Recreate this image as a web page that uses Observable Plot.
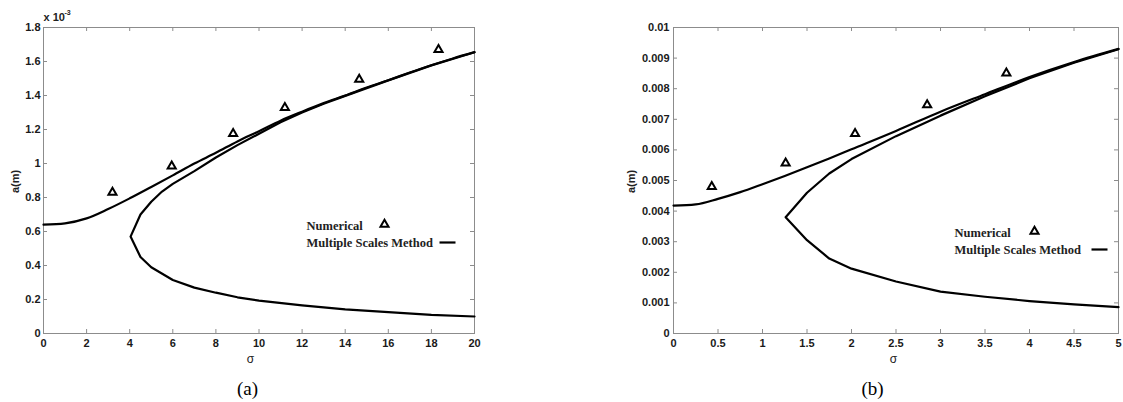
<!DOCTYPE html>
<html>
<head>
<meta charset="utf-8">
<script src="https://cdn.jsdelivr.net/npm/d3@7"></script>
<script src="https://cdn.jsdelivr.net/npm/@observablehq/plot@0.6"></script>
<style>
  html, body { margin: 0; padding: 0; background: #fff; }
  #wrap { position: relative; width: 1123px; height: 402px; overflow: hidden; }
  #pa, #pb { position: absolute; top: 0; }
  #pa { left: 0; }
  #pb { left: 560px; }
</style>
</head>
<body>
<div id="wrap"><div id="pa"></div><div id="pb"></div></div>
<script>
// ---------- Panel (a) data (a in units of 1e-3 m) ----------
const sigmaA_upper = [0, 1, 2, 3, 4, 5, 6, 7, 8, 9, 10, 11, 12, 13, 14, 15, 16, 17, 18, 19, 20];
const ampA_upper   = [0.640, 0.648, 0.677, 0.732, 0.795, 0.862, 0.930, 1.000, 1.063, 1.130, 1.190, 1.252, 1.305, 1.355, 1.400, 1.447, 1.490, 1.535, 1.578, 1.618, 1.655];
const sigmaA_middle = [4.04, 4.5, 5, 5.5, 6, 7, 8, 9, 10, 11, 12, 13, 14, 16, 18, 20];
const ampA_middle   = [0.570, 0.700, 0.775, 0.835, 0.880, 0.955, 1.035, 1.108, 1.175, 1.243, 1.300, 1.352, 1.398, 1.489, 1.577, 1.654];
const sigmaA_lower = [4.04, 4.5, 5, 6, 7, 8, 9, 10, 12, 14, 16, 18, 20];
const ampA_lower   = [0.570, 0.450, 0.390, 0.315, 0.270, 0.240, 0.213, 0.193, 0.165, 0.142, 0.126, 0.110, 0.100];
const sigmaA_num = [3.2, 5.95, 8.8, 11.2, 14.65, 18.33];
const ampA_num   = [0.830, 0.985, 1.175, 1.328, 1.494, 1.669];
const xTicksA = [0, 2, 4, 6, 8, 10, 12, 14, 16, 18, 20];
const yTicksA = [0, 0.2, 0.4, 0.6, 0.8, 1, 1.2, 1.4, 1.6, 1.8];

// ---------- Panel (b) data (a in m) ----------
const sigmaB_upper = [0, 0.25, 0.5, 0.75, 1, 1.25, 1.5, 1.75, 2, 2.5, 3, 3.5, 4, 4.5, 5];
const ampB_upper   = [0.00418, 0.00422, 0.00440, 0.00462, 0.00488, 0.00515, 0.00543, 0.00572, 0.00602, 0.00662, 0.00725, 0.00782, 0.00838, 0.00887, 0.00930];
const sigmaB_middle = [1.26, 1.5, 1.75, 2, 2.5, 3, 3.5, 4, 4.5, 5];
const ampB_middle   = [0.00380, 0.00460, 0.00523, 0.00570, 0.00645, 0.00712, 0.00775, 0.00834, 0.00885, 0.00929];
const sigmaB_lower = [1.26, 1.5, 1.75, 2, 2.5, 3, 3.5, 4, 4.5, 5];
const ampB_lower   = [0.00380, 0.00305, 0.00245, 0.00212, 0.00170, 0.00137, 0.00120, 0.00106, 0.00095, 0.00086];
const sigmaB_num = [0.43, 1.26, 2.04, 2.85, 3.74];
const ampB_num   = [0.00480, 0.00557, 0.00653, 0.00747, 0.00851];
const xTicksB = [0, 0.5, 1, 1.5, 2, 2.5, 3, 3.5, 4, 4.5, 5];
const yTicksB = [0, 0.001, 0.002, 0.003, 0.004, 0.005, 0.006, 0.007, 0.008, 0.009, 0.01];

const legendLabels = ["Numerical", "Multiple Scales Method"];
const axisLabelX = "σ";
const axisLabelY = "a(m)";

const sans = "'Liberation Sans', Arial, Helvetica, sans-serif";
const serif = "'Liberation Serif', 'Times New Roman', Times, serif";
const gray = "#8c8c8c";
const fmt = d => `${d}`;

function rows(xs, ys, branch) { return xs.map((x, i) => ({sigma: x, a: ys[i], branch})); }

const dashSymbol = { draw(ctx) { ctx.moveTo(-8, 0); ctx.lineTo(8, 0); } };

function panel(cfg) {
  const W = cfg.width, H = 402;
  const mt = 27, mb = 69;
  const pw = W - cfg.ml - cfg.mr, ph = H - mt - mb;
  const upper = rows(cfg.upper[0], cfg.upper[1], "upper");
  const unstable = rows(cfg.middle[0], cfg.middle[1], "unstable").reverse()
    .concat(rows(cfg.lower[0], cfg.lower[1], "unstable").slice(1));
  const nums = rows(cfg.num[0], cfg.num[1], "num");
  const marks = [
    Plot.frame({stroke: gray, strokeWidth: 1}),
    Plot.tickX(cfg.xTicks, {x: d => d, stroke: gray, insetTop: ph - 4}),
    Plot.tickX(cfg.xTicks, {x: d => d, stroke: gray, insetBottom: ph - 4}),
    Plot.tickY(cfg.yTicks, {y: d => d, stroke: gray, insetRight: pw - 4}),
    Plot.tickY(cfg.yTicks, {y: d => d, stroke: gray, insetLeft: pw - 4}),
    Plot.axisX({ticks: cfg.xTicks, tickFormat: fmt, tickSize: 0, tickPadding: 6, label: null, fontWeight: "bold", fill: "#1a1a1a"}),
    Plot.axisY({ticks: cfg.yTicks, tickFormat: fmt, tickSize: 0, tickPadding: cfg.ypad, label: null, fontWeight: "bold", fill: "#1a1a1a"}),
    Plot.line(upper, {x: "sigma", y: "a", stroke: "#000", strokeWidth: 2.2, curve: "monotone-x"}),
    Plot.line(unstable, {x: "sigma", y: "a", stroke: "#000", strokeWidth: 2.2, strokeLinejoin: "round"}),
    Plot.dot(nums, {x: "sigma", y: "a", symbol: "triangle", r: 3, stroke: "#000", strokeWidth: 2, fill: "none"}),
    // axis titles
    Plot.text([axisLabelX], {frameAnchor: "bottom", textAnchor: "middle", lineAnchor: "middle", dx: cfg.sigmaDx, dy: 26, fontSize: 12, fill: "#222", fontFamily: sans}),
    Plot.text([axisLabelY], {frameAnchor: "left", textAnchor: "middle", lineAnchor: "middle", rotate: -90, dx: cfg.amDx, dy: 1, fontSize: 11, fontWeight: "bold", fill: "#222", fontFamily: sans}),
    // caption
    Plot.text([cfg.caption], {frameAnchor: "bottom", textAnchor: "middle", lineAnchor: "middle", dx: cfg.capDx, dy: 55, fontSize: 19, fill: "#000", fontFamily: serif}),
    // legend
    Plot.text([legendLabels[0]], {frameAnchor: "top-left", textAnchor: "start", lineAnchor: "middle", dx: cfg.legX, dy: cfg.legY, fontSize: 12.5, fontWeight: "bold", fontFamily: serif, fill: "#222"}),
    Plot.text([legendLabels[1]], {frameAnchor: "top-left", textAnchor: "start", lineAnchor: "middle", dx: cfg.legX, dy: cfg.legY + 17, fontSize: 12.5, fontWeight: "bold", fontFamily: serif, fill: "#222"}),
    Plot.dot([legendLabels[0]], {x: null, y: null, frameAnchor: "top-left", dx: cfg.legTri, dy: cfg.legY - 1, symbol: "triangle", r: 3, stroke: "#000", strokeWidth: 2, fill: "none"}),
    Plot.dot([legendLabels[1]], {x: null, y: null, frameAnchor: "top-left", dx: cfg.legLine, dy: cfg.legY + 17, symbol: dashSymbol, r: 4, stroke: "#000", strokeWidth: 2.2, fill: "none"})
  ];
  if (cfg.exponent) {
    marks.push(Plot.text(["x 10"], {frameAnchor: "top-left", textAnchor: "start", lineAnchor: "middle", dx: 0, dy: -10, fontSize: 11, fontWeight: "bold", fill: "#222", fontFamily: sans}));
    marks.push(Plot.text([cfg.exponent], {frameAnchor: "top-left", textAnchor: "start", lineAnchor: "middle", dx: 21, dy: -14.5, fontSize: 7, fontWeight: "bold", fill: "#222", fontFamily: sans}));
  }
  return Plot.plot({
    width: W, height: H,
    marginLeft: cfg.ml, marginRight: cfg.mr, marginTop: mt, marginBottom: mb,
    x: {domain: cfg.xDomain, axis: null},
    y: {domain: cfg.yDomain, axis: null},
    style: {fontFamily: sans, fontSize: "11px", background: "#fff", overflow: "visible"},
    marks
  });
}

document.getElementById("pa").append(panel({
  width: 560, ml: 43, mr: 86, xDomain: [0, 20], yDomain: [0, 1.8],
  xTicks: xTicksA, yTicks: yTicksA, ypad: 3,
  upper: [sigmaA_upper, ampA_upper], middle: [sigmaA_middle, ampA_middle], lower: [sigmaA_lower, ampA_lower],
  num: [sigmaA_num, ampA_num],
  sigmaDx: -8.5, amDx: -28, capDx: -11.5, caption: "(a)",
  legX: 263, legY: 198, legTri: 341, legLine: 404,
  exponent: "-3"
}));

document.getElementById("pb").append(panel({
  width: 563, ml: 113, mr: 5, xDomain: [0, 5], yDomain: [0, 0.01],
  xTicks: xTicksB, yTicks: yTicksB, ypad: 4,
  upper: [sigmaB_upper, ampB_upper], middle: [sigmaB_middle, ampB_middle], lower: [sigmaB_lower, ampB_lower],
  num: [sigmaB_num, ampB_num],
  sigmaDx: -2.5, amDx: -42, capDx: -23.5, caption: "(b)",
  legX: 281, legY: 205, legTri: 361, legLine: 426,
  exponent: null
}));
</script>
</body>
</html>
